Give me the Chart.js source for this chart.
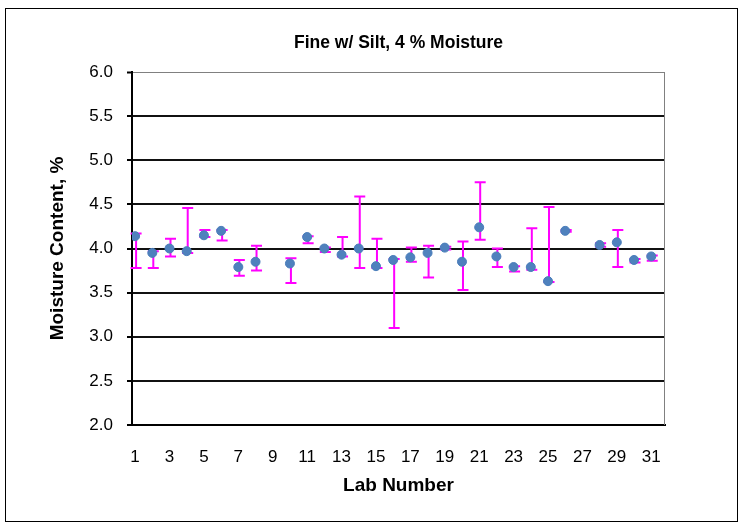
<!DOCTYPE html>
<html>
<head>
<meta charset="utf-8">
<script src="https://cdn.jsdelivr.net/npm/chart.js@4"></script>
<style>
  html, body { margin: 0; padding: 0; background: #fff; }
  #wrap { width: 743px; height: 529px; position: relative; }
</style>
</head>
<body>
<div id="wrap"><canvas id="c" width="743" height="529"></canvas></div>
<script>
const labNumbers = [1,2,3,4,5,6,7,8,9,10,11,12,13,14,15,16,17,18,19,20,21,22,23,24,25,26,27,28,29,30,31];
const moisture  = [4.14,3.95,4.00,3.97,4.15,4.20,3.79,3.85,null,3.83,4.13,4.00,3.93,4.00,3.80,3.87,3.90,3.95,4.01,3.85,4.24,3.91,3.79,3.79,3.63,4.20,null,4.04,4.07,3.87,3.91];
const errLow    = [3.78,3.78,3.91,3.95,4.13,4.09,3.69,3.75,null,3.61,4.06,3.96,3.91,3.78,3.78,3.10,3.85,3.67,3.99,3.53,4.10,3.79,3.74,3.76,3.62,4.19,null,4.02,3.79,3.84,3.86];
const errHigh   = [4.17,3.97,4.11,4.46,4.21,4.21,3.87,4.03,null,3.89,4.14,4.01,4.13,4.59,4.11,3.88,4.01,4.03,4.02,4.08,4.75,4.00,3.80,4.23,4.47,4.21,null,4.06,4.21,3.88,3.92];
const xTickLabels = [1,3,5,7,9,11,13,15,17,19,21,23,25,27,29,31];

const FONT = "'Liberation Sans', Arial, sans-serif";

const points = labNumbers.map((x, i) => ({ x: x, y: moisture[i] })).filter(p => p.y !== null);

const errorBars = {
  id: 'errorBars',
  beforeDatasetsDraw(chart) {
    const ctx = chart.ctx;
    const xs = chart.scales.x, ys = chart.scales.y;
    ctx.save();
    ctx.strokeStyle = '#FF00FF';
    ctx.lineWidth = 2;
    labNumbers.forEach((lab, i) => {
      if (errLow[i] === null || errHigh[i] === null) return;
      const px = xs.getPixelForValue(lab) + 1;
      const y1 = ys.getPixelForValue(errLow[i]);
      const y2 = ys.getPixelForValue(errHigh[i]);
      ctx.beginPath();
      ctx.moveTo(px, y1); ctx.lineTo(px, y2);
      ctx.moveTo(px - 5.5, y1); ctx.lineTo(px + 5.5, y1);
      ctx.moveTo(px - 5.5, y2); ctx.lineTo(px + 5.5, y2);
      ctx.stroke();
    });
    ctx.restore();
  }
};

const frame = {
  id: 'frame',
  beforeDraw(chart) {
    const ctx = chart.ctx;
    ctx.save();
    ctx.fillStyle = '#fff';
    ctx.fillRect(0, 0, chart.width, chart.height);
    ctx.strokeStyle = '#000';
    ctx.lineWidth = 1;
    ctx.strokeRect(5.5, 8.5, 732, 513);
    ctx.restore();
  },
  beforeDatasetsDraw(chart) {
    const a = chart.chartArea;
    const ctx = chart.ctx;
    ctx.save();
    ctx.strokeStyle = '#808080';
    ctx.lineWidth = 1;
    ctx.beginPath();
    ctx.moveTo(a.right - 0.5, a.top);
    ctx.lineTo(a.right - 0.5, a.bottom);
    ctx.stroke();
    ctx.restore();
  }
};

new Chart(document.getElementById('c'), {
  type: 'scatter',
  data: {
    datasets: [{
      label: 'Moisture Content',
      data: points,
      showLine: false,
      pointRadius: 4.5,
      pointHoverRadius: 4.5,
      pointBackgroundColor: '#4F81BD',
      pointBorderColor: '#4A7EBB',
      pointBorderWidth: 1
    }]
  },
  options: {
    responsive: false,
    animation: false,
    layout: { padding: { left: 5, right: 78, top: 8, bottom: 32 } },
    plugins: {
      legend: { display: false },
      tooltip: { enabled: false },
      title: {
        display: true,
        text: 'Fine w/ Silt, 4 % Moisture',
        fullSize: false,
        color: '#000',
        font: { family: FONT, size: 17.5, weight: 'bold' },
        padding: { top: 25, bottom: 18 }
      }
    },
    scales: {
      x: {
        type: 'linear',
        min: 0.82,
        max: 31.8,
        afterBuildTicks(scale) {
          scale.ticks = xTickLabels.map(v => ({ value: v }));
        },
        afterFit(scale) { scale.height = 72; },
        grid: { display: false, drawTicks: false },
        border: { display: true, color: '#000', width: 2 },
        ticks: {
          color: '#000',
          font: { family: FONT, size: 17 },
          padding: 22,
          maxRotation: 0,
          autoSkip: false,
          callback: v => String(v)
        },
        title: {
          display: true,
          text: 'Lab Number',
          color: '#000',
          font: { family: FONT, size: 19, weight: 'bold' },
          padding: { top: 8, bottom: 0 }
        }
      },
      y: {
        min: 2,
        max: 6,
        afterFit(scale) { scale.width = 127; },
        ticks: {
          stepSize: 0.5,
          color: '#000',
          font: { family: FONT, size: 17 },
          padding: 14,
          callback: v => Number(v).toFixed(1)
        },
        grid: {
          color: ctx => (ctx.tick && ctx.tick.value === 6 ? '#808080' : '#111'),
          lineWidth: ctx => (ctx.tick && ctx.tick.value === 6 ? 1 : 2),
          tickColor: '#000',
          tickLength: 5,
          tickWidth: 2
        },
        border: { display: true, color: '#000', width: 2 },
        title: {
          display: true,
          text: 'Moisture Content, %',
          color: '#000',
          font: { family: FONT, size: 19, weight: 'bold' },
          padding: { top: 41.5, bottom: 0 }
        }
      }
    }
  },
  plugins: [frame, errorBars]
});
</script>
</body>
</html>
